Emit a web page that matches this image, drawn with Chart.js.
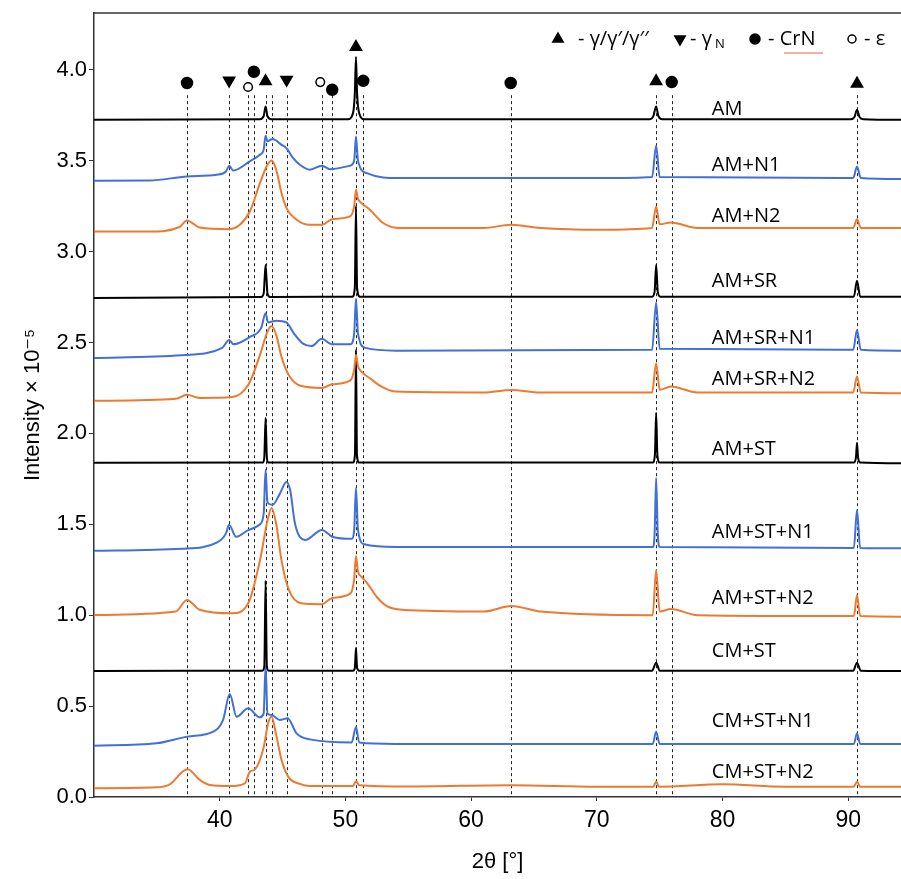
<!DOCTYPE html>
<html>
<head>
<meta charset="utf-8">
<script src="https://cdn.jsdelivr.net/npm/chart.js@4.4.1/dist/chart.umd.min.js"></script>
<style>
    body { margin: 0; background: #fff; }
</style>
</head>
<body>
<canvas id="xrd" width="901" height="879"></canvas>
<script>
// 2-theta / intensity pairs (intensity x 1e-5, offset as plotted)
var AM = [[30,3.725],[43.2,3.728],[43.5,3.745],[43.65,3.798],[43.8,3.745],[44.1,3.728],[50.2,3.728],[50.6,3.76],[50.75,3.87],[50.84,4.07],[50.93,3.87],[51.1,3.76],[51.5,3.728],[74.2,3.728],[74.5,3.745],[74.72,3.798],[74.9,3.745],[75.2,3.728],[90.2,3.728],[90.5,3.74],[90.7,3.78],[90.9,3.74],[91.2,3.728],[94.2,3.725]];
var AM_N1 = [[30,3.39],[34.4,3.391],[37.4,3.413],[39.75,3.422],[40.5,3.44],[40.75,3.472],[41.07,3.446],[42.4,3.496],[43.2,3.532],[43.5,3.56],[43.65,3.637],[43.8,3.606],[44.2,3.619],[44.92,3.587],[45.3,3.569],[45.85,3.514],[46.38,3.477],[47.17,3.45],[48.13,3.472],[48.77,3.453],[50.36,3.472],[50.7,3.5],[50.84,3.633],[51.0,3.5],[51.7,3.431],[54.3,3.404],[70.3,3.404],[74.4,3.41],[74.72,3.582],[75.0,3.41],[90.4,3.405],[90.7,3.468],[91.0,3.405],[94.2,3.399]];
var AM_N2 = [[30,3.11],[34.4,3.11],[36.8,3.135],[37.4,3.171],[38.4,3.132],[40.75,3.123],[41.6,3.147],[42.4,3.22],[43.2,3.376],[43.73,3.468],[44.12,3.501],[44.5,3.45],[44.92,3.32],[45.32,3.239],[46.12,3.175],[47.17,3.147],[48.13,3.147],[48.95,3.178],[50.36,3.193],[50.7,3.25],[50.84,3.34],[51.0,3.29],[51.15,3.275],[51.95,3.23],[53.0,3.157],[54.34,3.129],[61,3.13],[63.2,3.147],[65.5,3.13],[70.26,3.12],[74.4,3.13],[74.72,3.248],[75.0,3.15],[75.9,3.16],[78,3.13],[90.4,3.13],[90.7,3.178],[91.0,3.13],[94.2,3.129]];
var AM_SR = [[30,2.745],[43.3,2.75],[43.5,2.77],[43.65,2.927],[43.8,2.77],[44.0,2.75],[50.55,2.752],[50.75,2.8],[50.84,3.25],[50.93,2.8],[51.15,2.752],[74.4,2.752],[74.6,2.78],[74.72,2.927],[74.85,2.78],[75.05,2.752],[90.45,2.752],[90.7,2.839],[90.95,2.752],[94.2,2.752]];
var AM_SR_N1 = [[30,2.415],[37,2.43],[40.2,2.47],[40.75,2.514],[41.1,2.49],[42.4,2.53],[43.3,2.58],[43.65,2.66],[43.85,2.61],[44.5,2.62],[45.3,2.61],[45.9,2.55],[46.6,2.495],[47.3,2.48],[48.13,2.52],[48.9,2.49],[50.4,2.49],[50.7,2.55],[50.84,2.74],[51.0,2.55],[51.6,2.47],[54,2.455],[74.4,2.46],[74.72,2.72],[75.0,2.465],[90.4,2.46],[90.7,2.569],[91.0,2.46],[94.2,2.455]];
var AM_SR_N2 = [[30,2.179],[36.5,2.19],[37.4,2.212],[38.4,2.195],[41,2.2],[42.3,2.27],[43.2,2.43],[43.8,2.56],[44.12,2.59],[44.5,2.54],[44.92,2.42],[45.5,2.32],[46.5,2.26],[48.13,2.25],[48.95,2.27],[50.36,2.29],[50.7,2.35],[50.84,2.432],[51.0,2.37],[51.3,2.338],[52.0,2.3],[52.8,2.26],[54,2.23],[61,2.225],[63.2,2.239],[65.5,2.225],[74.4,2.225],[74.72,2.386],[75.0,2.24],[75.9,2.258],[78,2.225],[90.4,2.225],[90.7,2.313],[91.0,2.225],[94.2,2.221]];
var AM_ST = [[30,1.838],[43.45,1.84],[43.55,1.87],[43.65,2.085],[43.75,1.87],[43.85,1.84],[50.6,1.84],[50.76,1.88],[50.84,2.46],[50.92,1.88],[51.08,1.84],[74.45,1.84],[74.62,1.88],[74.72,2.113],[74.82,1.88],[74.99,1.84],[90.45,1.84],[90.62,1.87],[90.7,1.948],[90.78,1.87],[90.95,1.84],[94.2,1.836]];
var AM_ST_N1 = [[30,1.354],[37,1.365],[39.8,1.4],[40.5,1.45],[40.75,1.497],[41.3,1.431],[42.3,1.469],[43.2,1.5],[43.5,1.56],[43.65,1.8],[43.8,1.62],[44.2,1.607],[44.8,1.67],[45.3,1.733],[45.6,1.69],[46.0,1.5],[46.8,1.414],[48.13,1.469],[49,1.43],[50.5,1.42],[50.7,1.47],[50.84,1.7],[51.0,1.47],[51.5,1.39],[54,1.375],[74.45,1.375],[74.6,1.45],[74.72,1.755],[74.85,1.45],[75.0,1.375],[90.45,1.37],[90.7,1.579],[90.95,1.37],[94.2,1.368]];
var AM_ST_N2 = [[30,1.001],[36.5,1.02],[37.4,1.084],[38.4,1.03],[41,1.01],[42.3,1.07],[43.2,1.3],[43.8,1.52],[44.12,1.59],[44.5,1.5],[44.92,1.3],[45.5,1.139],[46.5,1.065],[48.13,1.06],[48.95,1.095],[50.4,1.12],[50.7,1.2],[50.84,1.326],[51.0,1.24],[51.3,1.21],[51.8,1.17],[52.5,1.1],[53.3,1.05],[54.5,1.03],[61,1.02],[63.2,1.051],[65.5,1.02],[74.45,1.0],[74.72,1.249],[75.0,1.02],[75.9,1.034],[78,1.0],[90.45,0.995],[90.7,1.111],[90.95,0.995],[94.2,0.992]];
var CM_ST = [[30,0.693],[43.4,0.695],[43.55,0.72],[43.65,1.19],[43.75,0.72],[43.9,0.695],[50.6,0.695],[50.75,0.71],[50.84,0.82],[50.93,0.71],[51.1,0.695],[74.4,0.695],[74.72,0.739],[75.0,0.695],[90.4,0.695],[90.7,0.739],[91.0,0.695],[94.2,0.693]];
var CM_ST_N1 = [[30,0.282],[34.97,0.295],[37.43,0.332],[39.48,0.359],[40.27,0.424],[40.8,0.567],[41.34,0.442],[42.26,0.488],[43.19,0.438],[43.5,0.46],[43.65,0.72],[43.8,0.46],[44.12,0.451],[44.78,0.424],[45.4,0.433],[46.11,0.35],[47.17,0.317],[50.5,0.3],[50.84,0.385],[51.1,0.3],[54,0.292],[74.45,0.292],[74.72,0.359],[75.0,0.292],[90.45,0.292],[90.7,0.35],[90.95,0.292],[94.2,0.292]];
var CM_ST_N2 = [[30,0.048],[34.97,0.053],[36.03,0.07],[37.43,0.152],[38.42,0.094],[39.21,0.066],[40.8,0.06],[42.0,0.075],[42.4,0.139],[42.8,0.152],[43.51,0.277],[43.85,0.405],[44.12,0.442],[44.52,0.332],[44.92,0.204],[45.45,0.112],[46.38,0.072],[47.17,0.06],[50.6,0.06],[50.84,0.086],[51.1,0.065],[55,0.058],[63.2,0.065],[70,0.057],[74.5,0.057],[74.72,0.084],[74.95,0.057],[80,0.07],[85,0.057],[90.45,0.057],[90.7,0.084],[90.95,0.057],[94.2,0.057]];

var sampleNames = ["AM", "AM+N1", "AM+N2", "AM+SR", "AM+SR+N1", "AM+SR+N2", "AM+ST", "AM+ST+N1", "AM+ST+N2", "CM+ST", "CM+ST+N1", "CM+ST+N2"];
var samples = [AM, AM_N1, AM_N2, AM_SR, AM_SR_N1, AM_SR_N2, AM_ST, AM_ST_N1, AM_ST_N2, CM_ST, CM_ST_N1, CM_ST_N2];

// phase reflections: [2theta, marker height]
var gammaPeaks = [[43.65,3.936],[50.84,4.125],[74.72,3.936],[90.7,3.923]];
var gammaNPeaks = [[40.75,3.941],[45.32,3.945]];
var crnPeaks = [[37.4,3.927],[42.72,3.989],[48.95,3.89],[51.42,3.939],[63.15,3.927],[75.96,3.932]];
var epsPeaks = [[42.26,3.905],[48.0,3.932]];
var refLines = [37.4, 40.75, 42.26, 42.72, 43.65, 44.17, 45.32, 48.13, 48.95, 50.84, 51.42, 63.15, 74.72, 75.96, 90.7];

var xTicks = [40, 50, 60, 70, 80, 90];
var yTicks = [0, 0.5, 1, 1.5, 2, 2.5, 3, 3.5, 4];

var BLACK = "#000000", BLUE = "#4070d8", ORANGE = "#ec7a30";
var seriesColors = [BLACK, BLUE, ORANGE, BLACK, BLUE, ORANGE, BLACK, BLUE, ORANGE, BLACK, BLUE, ORANGE];
var labelLevels = [3.785, 3.472, 3.193, 2.835, 2.524, 2.298, 1.915, 1.456, 1.093, 0.799, 0.418, 0.136];

var AXIS_FONT = "'Liberation Sans', 'DejaVu Sans', sans-serif";
var LABEL_FONT = "'Open Sans', 'DejaVu Sans', sans-serif";

function toPoints(arr) {
    return arr.map(function (p) { return {x: p[0], y: p[1]}; });
}

var datasets = samples.map(function (s, i) {
    return {
        label: sampleNames[i],
        data: toPoints(s),
        borderColor: seriesColors[i],
        borderWidth: 2,
        pointRadius: 0,
        cubicInterpolationMode: "monotone",
        fill: false
    };
});

function markerSet(arr, style, rot, radius, fillColor) {
    return {
        data: toPoints(arr),
        showLine: false,
        pointStyle: style,
        rotation: rot,
        pointRadius: radius,
        pointBackgroundColor: fillColor,
        pointBorderColor: BLACK,
        pointBorderWidth: 1.5
    };
}
datasets.unshift(
    markerSet(gammaPeaks, "triangle", 0, 6.5, BLACK),
    markerSet(gammaNPeaks, "triangle", 180, 6.5, BLACK),
    markerSet(crnPeaks, "circle", 0, 5.5, BLACK),
    markerSet(epsPeaks, "circle", 0, 4.3, "#ffffff")
);

var decorations = {
    id: "decorations",
    beforeDatasetsDraw: function (chart) {
        var c = chart.ctx, xs = chart.scales.x, ys = chart.scales.y;
        c.save();
        c.strokeStyle = "#222";
        c.lineWidth = 1;
        c.setLineDash([3, 3]);
        refLines.forEach(function (t) {
            var px = Math.round(xs.getPixelForValue(t)) + 0.5;
            c.beginPath();
            c.moveTo(px, ys.getPixelForValue(3.86));
            c.lineTo(px, ys.getPixelForValue(0));
            c.stroke();
        });
        c.restore();
    },
    afterDraw: function (chart) {
        var c = chart.ctx, xs = chart.scales.x, ys = chart.scales.y, area = chart.chartArea;
        c.save();
        // top frame line
        c.strokeStyle = "#333";
        c.lineWidth = 1.5;
        c.beginPath();
        c.moveTo(area.left, area.top);
        c.lineTo(area.right, area.top);
        c.stroke();

        // sample names
        c.fillStyle = BLACK;
        c.font = "20px " + LABEL_FONT;
        c.textBaseline = "middle";
        c.textAlign = "left";
        sampleNames.forEach(function (name, i) {
            c.fillText(name, xs.getPixelForValue(79.15), ys.getPixelForValue(labelLevels[i]));
        });

        // phase legend
        var ly = 39;
        var draw = Chart.helpers.drawPoint;
        c.lineWidth = 1.5;
        c.strokeStyle = BLACK;
        c.fillStyle = BLACK;
        draw(c, {pointStyle: "triangle", rotation: 0, radius: 6, borderWidth: 1.5}, 558, ly);
        draw(c, {pointStyle: "triangle", rotation: 180, radius: 6, borderWidth: 1.5}, 680, ly);
        draw(c, {pointStyle: "circle", rotation: 0, radius: 5, borderWidth: 1.5}, 755, ly);
        c.fillStyle = "#fff";
        draw(c, {pointStyle: "circle", rotation: 0, radius: 4, borderWidth: 2}, 852, ly);
        c.fillStyle = BLACK;
        c.font = "20px " + LABEL_FONT;
        c.fillText("- \u03b3/\u03b3\u2032/\u03b3\u2032\u2032", 578, ly);
        c.fillText("- \u03b3", 690, ly);
        c.font = "13px " + LABEL_FONT;
        c.fillText("N", 715, ly + 5);
        c.font = "20px " + LABEL_FONT;
        c.fillText("- CrN", 768, ly);
        c.fillText("- \u03b5", 864, ly);
        // spell-check squiggle under CrN, as in the source figure
        c.strokeStyle = "#e06060";
        c.lineWidth = 1;
        c.beginPath();
        c.moveTo(784, ly + 14);
        c.lineTo(823, ly + 14);
        c.stroke();
        c.restore();
    }
};

new Chart(document.getElementById("xrd"), {
    type: "line",
    data: {datasets: datasets},
    options: {
        responsive: false,
        animation: false,
        layout: {autoPadding: false, padding: {top: 13, right: 0, left: 0, bottom: 0}},
        plugins: {legend: {display: false}, tooltip: {enabled: false}},
        scales: {
            x: {
                type: "linear",
                min: 30,
                max: 94.2,
                afterBuildTicks: function (s) { s.ticks = xTicks.map(function (v) { return {value: v}; }); },
                afterFit: function (s) { s.height = 82; s.paddingLeft = 0; s.paddingRight = 0; },
                ticks: {color: BLACK, font: {family: AXIS_FONT, size: 23}, padding: 6, maxRotation: 0},
                grid: {display: true, drawOnChartArea: false, drawTicks: true, tickLength: 4, color: "#333"},
                border: {color: "#333", width: 1.5},
                title: {display: true, text: "2\u03b8 [\u00b0]", color: BLACK, font: {family: AXIS_FONT, size: 22}, padding: {bottom: 4}}
            },
            y: {
                min: 0,
                max: 4.312,
                afterBuildTicks: function (s) { s.ticks = yTicks.map(function (v) { return {value: v}; }); },
                afterFit: function (s) { s.width = 94; s.paddingTop = 0; s.paddingBottom = 0; },
                ticks: {color: BLACK, font: {family: AXIS_FONT, size: 22}, padding: 2, callback: function (v) { return v.toFixed(1); }},
                grid: {display: true, drawOnChartArea: false, drawTicks: true, tickLength: 5, color: "#333"},
                border: {color: "#333", width: 1.5},
                title: {display: true, text: "Intensity \u00d7 10\u207b\u2075", color: BLACK, font: {family: AXIS_FONT, size: 22}, padding: {top: 20}}
            }
        }
    },
    plugins: [decorations]
});
</script>
</body>
</html>
